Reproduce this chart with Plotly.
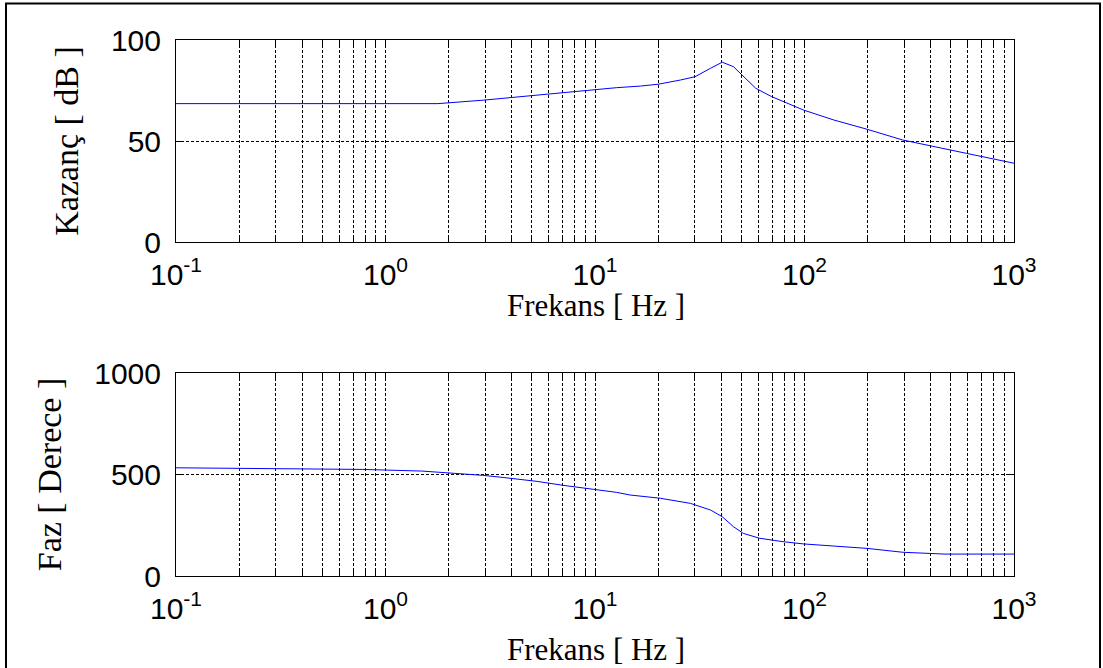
import plotly.graph_objects as go
from plotly.subplots import make_subplots

# ---- data ----
freq_gain = [0.1, 1.78, 2.92, 3.8, 4.8, 6.1, 7.6, 9.8, 12.7, 16.5, 20, 25.6, 30, 35.6, 40.5,
             45.8, 51.2, 58.5, 69.6, 99, 138, 199, 294, 411, 592, 1000]
gain_db = [68.5, 68.5, 70.2, 71.3, 72.3, 73.6, 74.4, 75.6, 76.4, 77.2, 78.1, 80.2, 81.8, 86, 89,
           86.8, 81.8, 76.1, 72, 65.3, 60.4, 55.8, 50.5, 47.2, 43.9, 39]

freq_phase = [0.1, 0.78, 1.49, 2.2, 2.9, 3.6, 4.4, 5.3, 7.0, 9.8, 12.7, 14.7, 20.5, 28.5, 35.6,
              40.5, 45.8, 51, 61, 79, 99, 199, 294, 468, 1000]
phase_deg = [533, 525, 517, 506, 496, 486, 476, 466, 447, 429, 412, 399, 383, 358, 325,
             292, 243, 210, 186, 169, 158, 136, 117, 108, 108]

x_major = [0.1, 1, 10, 100, 1000]
x_major_text = ["10<sup>-1</sup>", "10<sup>0</sup>", "10<sup>1</sup>", "10<sup>2</sup>", "10<sup>3</sup>"]
gain_ticks = [0, 50, 100]
phase_ticks = [0, 500, 1000]

x_minor = [m * d for d in [0.1, 1, 10, 100] for m in range(2, 10)]

W, H = 1103, 668
L, R, T, B = 176, 89, 40, 92
pw, ph = W - L - R, H - T - B

def py(pix):
    return (H - B - pix) / ph

def px(pix):
    return (pix - L) / pw

fig = make_subplots(rows=2, cols=1)
fig.add_trace(go.Scatter(x=freq_gain, y=gain_db, mode="lines",
                         line=dict(color="#0000ff", width=1), showlegend=False), row=1, col=1)
fig.add_trace(go.Scatter(x=freq_phase, y=phase_deg, mode="lines",
                         line=dict(color="#0000ff", width=1), showlegend=False), row=2, col=1)

tick_font = dict(family="Liberation Sans, Arial", size=30, color="black")
xtitle_font = dict(family="Liberation Serif, Times New Roman", size=31, color="black")
ytitle_font = dict(family="Liberation Serif, Times New Roman", size=34, color="black")
grid = dict(showgrid=True, gridcolor="black", gridwidth=1, griddash="3px,2px")

xcommon = dict(type="log", range=[-1, 3], tickmode="array", tickvals=x_major, ticktext=x_major_text,
               ticks="inside", ticklen=6, tickcolor="black", showline=True, linecolor="black",
               linewidth=1, mirror="ticks", tickfont=tick_font, zeroline=False,
               ticklabelstandoff=6,
               minor=dict(tickmode="array", tickvals=x_minor, ticks="inside", ticklen=5,
                          tickcolor="black", showgrid=True, gridcolor="black", gridwidth=1,
                          griddash="3px,2px"),
               **grid)
ycommon = dict(ticks="inside", ticklen=6, tickcolor="black", showline=True, linecolor="black",
               linewidth=1, mirror="ticks", tickfont=tick_font, zeroline=False,
               ticklabelstandoff=8, tickmode="array", **grid)

fig.update_xaxes(**xcommon)
fig.update_yaxes(**ycommon)
fig.update_yaxes(range=[0, 100], tickvals=gain_ticks,
                 title=dict(text="Kazanç [ dB ]", font=ytitle_font, standoff=22), row=1, col=1)
fig.update_yaxes(range=[0, 1000], tickvals=phase_ticks,
                 title=dict(text="Faz [ Derece ]", font=ytitle_font, standoff=22), row=2, col=1)

fig.update_layout(
    width=W, height=H,
    margin=dict(l=L, r=R, t=T, b=B, autoexpand=False),
    plot_bgcolor="white", paper_bgcolor="white",
    xaxis=dict(domain=[0, 1]), yaxis=dict(domain=[py(242), 1.0]),
    xaxis2=dict(domain=[0, 1]), yaxis2=dict(domain=[0.0, py(373)]),
    shapes=[dict(type="rect", xref="paper", yref="paper",
                 x0=px(6), x1=px(1100), y0=py(690), y1=py(3.5),
                 line=dict(color="black", width=2), fillcolor="rgba(0,0,0,0)", layer="below")],
    annotations=[
        dict(text="Frekans [ Hz ]", xref="paper", yref="paper", x=px(596), y=py(305),
             xanchor="center", yanchor="middle", showarrow=False, font=xtitle_font),
        dict(text="Frekans [ Hz ]", xref="paper", yref="paper", x=px(596), y=py(649),
             xanchor="center", yanchor="middle", showarrow=False, font=xtitle_font),
    ],
)

fig.write_html("out.html")
